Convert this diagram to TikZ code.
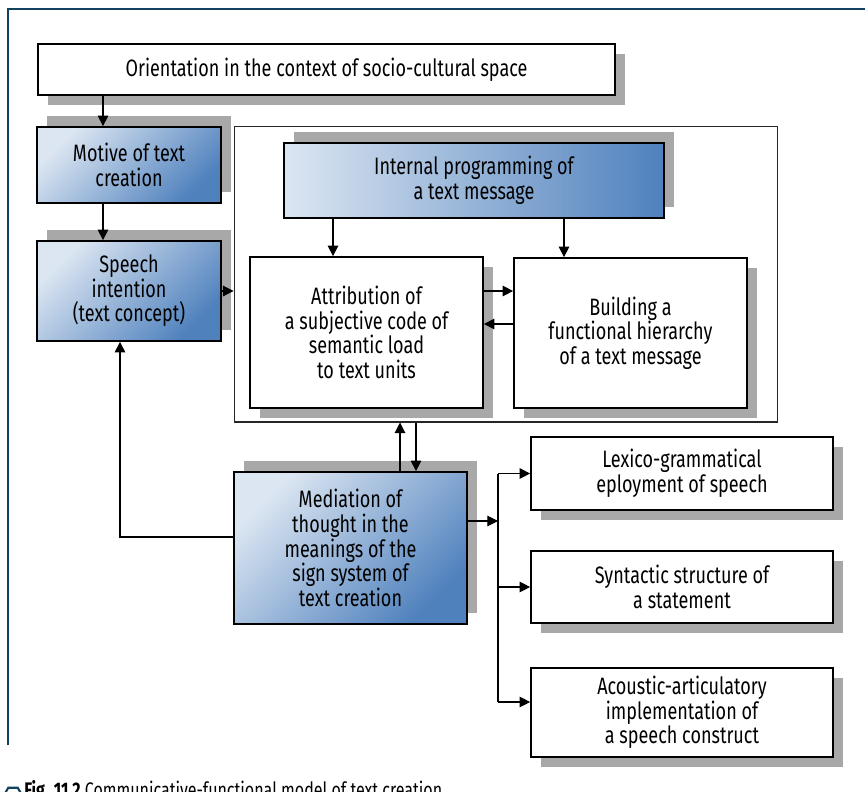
\documentclass[tikz,border=0pt]{standalone}
\usepackage{fontspec}
\setmainfont{Fira Sans}[FakeStretch=0.76]
\usepackage{tikz}
\usetikzlibrary{shapes.geometric, arrows.meta, positioning, shadows, calc}
\definecolor{FrameBlue}{HTML}{12425F}
\definecolor{ShadeLight}{HTML}{DCE6F2}
\definecolor{ShadeDark}{HTML}{4F81BD}
\definecolor{ShadowGray}{HTML}{A8A8A8}

\begin{document}
\begin{tikzpicture}[x=0.02cm, y=-0.02cm,
  every node/.style={font=\fontsize{13.5}{14}\selectfont, align=center},
  plainbox/.style={rectangle, draw=black, line width=1pt, fill=white,
    drop shadow={shadow xshift=0.2cm, shadow yshift=-0.2cm,
      fill=ShadowGray, opacity=1}},
  bluebox/.style={rectangle, draw=black, line width=1pt,
    top color=ShadeLight, bottom color=ShadeDark, shading angle=45,
    drop shadow={shadow xshift=0.2cm, shadow yshift=0.22cm,
      fill=ShadowGray, opacity=1}},
  arr/.style={line width=0.6pt, -{Triangle[length=6pt, width=6pt]}}
]
\useasboundingbox (0,0) rectangle (865,791);

% Frame
\draw[FrameBlue, line width=1.6pt] (8,745) -- (8,9) -- (866,9);

% Outer boxes
\node[plainbox, minimum width=11.54cm, minimum height=1.02cm] (orient) at (326.5,69.5)
  {Orientation in the context of socio-cultural space};
\node[bluebox, minimum width=3.68cm, minimum height=1.52cm] (motive) at (129,165)
  {Motive of text\\creation};
\node[bluebox, minimum width=3.68cm, minimum height=2cm] (speech) at (129,291)
  {Speech\\intention\\(text concept)};

% Container of the internal programming
\node[draw=black!85, line width=0.6pt, minimum width=10.88cm, minimum height=5.92cm] (inner) at (506,274) {};
\node[bluebox, shading angle=90, minimum width=7.6cm, minimum height=1.5cm] (intprog) at (474,180.5)
  {Internal programming of\\a text message};
\node[plainbox, minimum width=4.66cm, minimum height=3.02cm] (attrib) at (366.5,332.5)
  {Attribution of\\a subjective code of\\semantic load\\to text units};
\node[plainbox, minimum width=4.66cm, minimum height=3cm] (build) at (630.5,333)
  {Building a\\functional hierarchy\\of a text message};

% Mediation and its outputs
\node[bluebox, minimum width=4.66cm, minimum height=3.04cm] (mediat) at (350.5,548)
  {Mediation of\\thought in the\\meanings of the\\sign system of\\text creation};
\node[plainbox, minimum width=6.04cm, minimum height=1.46cm] (lexico) at (682,473.5)
  {Lexico-grammatical\\eployment of speech};
\node[plainbox, minimum width=6.04cm, minimum height=1.44cm] (syntac) at (682,587)
  {Syntactic structure of\\a statement};
\node[plainbox, minimum width=6.04cm, minimum height=1.78cm] (acoust) at (682,712.5)
  {Acoustic-articulatory\\implementation of\\a speech construct};

% Helper coordinates
\coordinate (colA) at (103,0);
\coordinate (colB) at (120,537);
\coordinate (colC) at (333,0);
\coordinate (colD) at (564,0);
\coordinate (upX) at (400,0);
\coordinate (downX) at (416,0);
\coordinate (rowF) at (0,291);
\coordinate (rowB) at (0,324);
\coordinate (fork) at (498,521);
\coordinate (forkEnd) at (498,702);

% Connectors
\draw[arr] (orient.south -| colA) -- (motive.north -| colA);
\draw[arr] (motive.south -| colA) -- (speech.north -| colA);
\draw[arr] (speech.east |- rowF) -- (inner.west |- rowF);
\draw[arr] (intprog.south -| colC) -- (attrib.north -| colC);
\draw[arr] (intprog.south -| colD) -- (build.north -| colD);
\draw[arr] (attrib.east |- rowF) -- (build.west |- rowF);
\draw[arr] (build.west |- rowB) -- (attrib.east |- rowB);
\draw[arr] (mediat.north -| upX) -- (inner.south -| upX);
\draw[arr] (inner.south -| downX) -- (mediat.north -| downX);
\draw[arr] (mediat.west |- colB) -- (colB) -- (speech.south -| colB);
\draw[arr] (mediat.east |- fork) -- (fork);
\draw[line width=0.6pt] (fork |- lexico) -- (forkEnd);
\draw[arr] (fork |- lexico) -- (lexico.west);
\draw[arr] (fork |- syntac) -- (syntac.west);
\draw[arr] (forkEnd) -- (acoust.west |- forkEnd);

% Caption (cut by the page edge)
\node[regular polygon, regular polygon sides=6, draw=FrameBlue, line width=1.2pt,
  minimum size=0.38cm, inner sep=0pt] (icon) at (13,796) {};
\node[anchor=base west, inner sep=0pt, font=\fontsize{12}{13}\selectfont] (caption) at (24,797)
  {\textbf{Fig. 11.2} Communicative-functional model of text creation};
\end{tikzpicture}
\end{document}
